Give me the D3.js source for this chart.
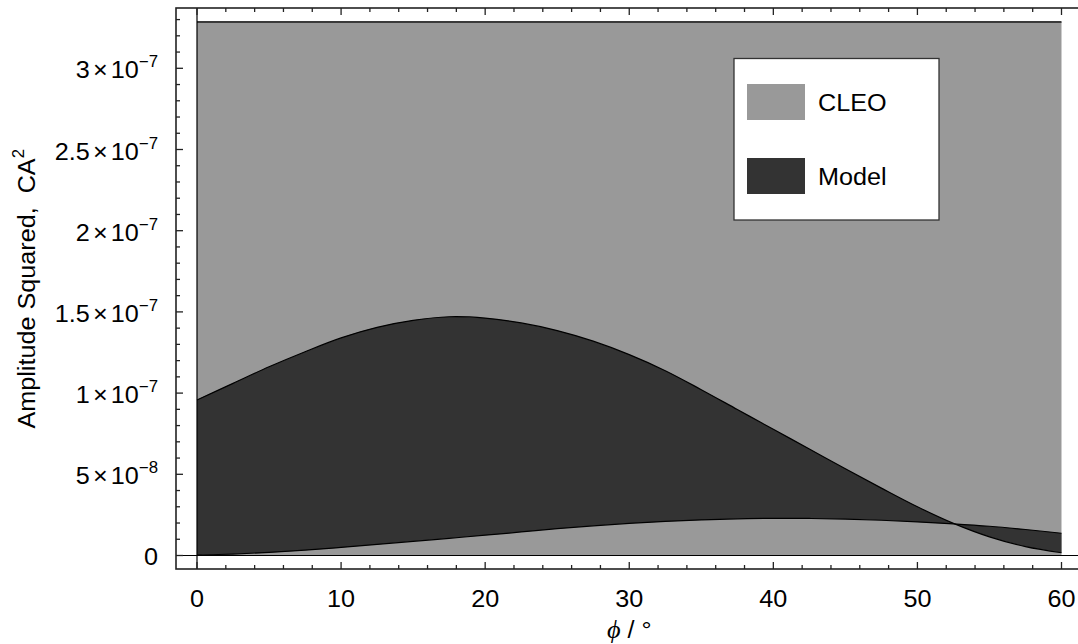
<!DOCTYPE html>
<html>
<head>
<meta charset="utf-8">
<script src="https://cdn.jsdelivr.net/npm/d3@7"></script>
<style>
  html, body { margin: 0; padding: 0; background: #fff; }
  svg { display: block; font-family: "Liberation Sans", Arial, sans-serif; }
</style>
</head>
<body>
<svg id="chart" width="1078" height="644"></svg>
<script>
// ---------------- data ----------------
const phiDeg = [0, 2.5, 5, 7.5, 10, 12.5, 15, 17.5, 20, 22.5, 25, 27.5, 30,
                32.5, 35, 37.5, 40, 42.5, 45, 47.5, 50, 52.5, 55, 57.5, 60];
// model band, in units of 1e-8
const modelUpper = [9.58, 10.6, 11.62, 12.55, 13.4, 14.05, 14.48, 14.7, 14.62, 14.32, 13.85, 13.2, 12.37,
                    11.38, 10.21, 8.99, 7.77, 6.56, 5.34, 4.15, 3.0, 1.98, 1.15, 0.55, 0.17];
const modelLower = [0.03, 0.09, 0.19, 0.33, 0.5, 0.68, 0.87, 1.06, 1.25, 1.45, 1.65, 1.83, 1.98,
                    2.1, 2.19, 2.26, 2.29, 2.28, 2.24, 2.17, 2.07, 1.95, 1.8, 1.6, 1.37];
const unit = 1e-8;
// CLEO band limits
const cleoLow = 0;
const cleoHigh = 3.285e-7;
const cleoPhiRange = [0, 60];

const xTicks = [0, 10, 20, 30, 40, 50, 60];
const xMinorTicks = [2, 4, 6, 8, 12, 14, 16, 18, 22, 24, 26, 28, 32, 34, 36, 38, 42, 44, 46, 48, 52, 54, 56, 58];
const yTicks = [0, 5e-8, 1e-7, 1.5e-7, 2e-7, 2.5e-7, 3e-7];
const yTickMantissa = ["0", "5", "1", "1.5", "2", "2.5", "3"];
const yTickExponent = ["", "\u22128", "\u22127", "\u22127", "\u22127", "\u22127", "\u22127"];
const yMinorTicks = d3.range(1, 34).filter(k => k % 5 !== 0).map(k => k * 1e-8);

const legendLabels = ["CLEO", "Model"];
const legendColors = ["#999999", "#333333"];
const xTitle = ["\u03D5", " / \u00B0"];
const yTitle = ["Amplitude Squared,  CA", "2"];

// ---------------- layout ----------------
const frame = { left: 176, top: 8, right: 1080, bottom: 569 };
const svg = d3.select("#chart");
const x = d3.scaleLinear().domain([0, 60]).range([197, 1061.5]);
const y = d3.scaleLinear().domain([0, 3e-7]).range([555.5, 68.3]);
const SX = 1.05;
const FS = 24;

// CLEO band
svg.append("rect")
  .attr("x", x(cleoPhiRange[0])).attr("y", y(cleoHigh))
  .attr("width", x(cleoPhiRange[1]) - x(cleoPhiRange[0]))
  .attr("height", y(cleoLow) - y(cleoHigh))
  .attr("fill", legendColors[0]);
svg.append("line")
  .attr("x1", x(cleoPhiRange[0])).attr("x2", x(cleoPhiRange[1]))
  .attr("y1", y(cleoHigh)).attr("y2", y(cleoHigh))
  .attr("stroke", "#3a3a3a").attr("stroke-width", 2);

// Model band
const pts = phiDeg.map((p, i) => ({ p, lo: modelLower[i] * unit, hi: modelUpper[i] * unit }));
const curve = d3.curveCatmullRom.alpha(0.5);
svg.append("path")
  .attr("d", d3.area().x(d => x(d.p)).y0(d => y(d.lo)).y1(d => y(d.hi)).curve(curve)(pts))
  .attr("fill", legendColors[1]);
const line = d3.line().curve(curve);
svg.append("path").attr("d", line(pts.map(d => [x(d.p), y(d.hi)])))
  .attr("fill", "none").attr("stroke", "#000").attr("stroke-width", 1.2);
svg.append("path").attr("d", line(pts.map(d => [x(d.p), y(d.lo)])))
  .attr("fill", "none").attr("stroke", "#000").attr("stroke-width", 1.2);

// Axes lines through origin
svg.append("line").attr("x1", frame.left).attr("x2", frame.right)
  .attr("y1", y(0)).attr("y2", y(0)).attr("stroke", "#000").attr("stroke-width", 1.2);
svg.append("line").attr("x1", x(0)).attr("x2", x(0))
  .attr("y1", frame.top).attr("y2", frame.bottom).attr("stroke", "#000").attr("stroke-width", 1.2);

// Frame
svg.append("rect")
  .attr("x", frame.left).attr("y", frame.top)
  .attr("width", frame.right - frame.left).attr("height", frame.bottom - frame.top)
  .attr("fill", "none").attr("stroke", "#222").attr("stroke-width", 1.6);

// Ticks
const tk = svg.append("g").attr("stroke", "#222").attr("stroke-width", 1.3);
xTicks.forEach(v => {
  tk.append("line").attr("x1", x(v)).attr("x2", x(v)).attr("y1", frame.bottom).attr("y2", frame.bottom - 7);
  tk.append("line").attr("x1", x(v)).attr("x2", x(v)).attr("y1", frame.top).attr("y2", frame.top + 7);
});
xMinorTicks.forEach(v => {
  tk.append("line").attr("x1", x(v)).attr("x2", x(v)).attr("y1", frame.bottom).attr("y2", frame.bottom - 4);
  tk.append("line").attr("x1", x(v)).attr("x2", x(v)).attr("y1", frame.top).attr("y2", frame.top + 4);
});
yTicks.forEach(v => {
  tk.append("line").attr("x1", frame.left).attr("x2", frame.left + 7).attr("y1", y(v)).attr("y2", y(v));
});
yMinorTicks.forEach(v => {
  tk.append("line").attr("x1", frame.left).attr("x2", frame.left + 4).attr("y1", y(v)).attr("y2", y(v));
});

// Tick labels
xTicks.forEach(v => {
  svg.append("text")
    .attr("transform", `translate(${x(v)},606.5) scale(${SX},1)`)
    .attr("text-anchor", "middle").attr("font-size", FS).attr("fill", "#000")
    .text(v);
});
yTicks.forEach((v, i) => {
  const exp = yTickExponent[i];
  const t = svg.append("text")
    .attr("transform", `translate(158,${y(v) + (exp ? 10 : 9)}) scale(${SX},1)`)
    .attr("text-anchor", "end").attr("font-size", FS).attr("fill", "#000");
  if (!exp) { t.text(yTickMantissa[i]); return; }
  t.append("tspan").text(yTickMantissa[i]);
  t.append("tspan").attr("dx", 3).text("\u00D7");
  t.append("tspan").attr("dx", 3).text("10");
  t.append("tspan").attr("dy", -11).attr("font-size", 16).text(exp);
});

// Axis titles
const xt = svg.append("text")
  .attr("transform", `translate(${(x(0) + x(60)) / 2},638) scale(${SX},1)`)
  .attr("text-anchor", "middle").attr("font-size", FS).attr("fill", "#000")
  .style("white-space", "pre");
xt.append("tspan").attr("font-family", "'Liberation Serif', serif").attr("font-style", "italic").attr("font-size", 25).text(xTitle[0]);
xt.append("tspan").text(xTitle[1]);

const yt = svg.append("text")
  .attr("transform", `translate(35,${(y(0) + y(cleoHigh)) / 2}) rotate(-90) scale(${SX},1)`)
  .attr("text-anchor", "middle").attr("font-size", FS).attr("fill", "#000")
  .style("white-space", "pre");
yt.append("tspan").text(yTitle[0]);
yt.append("tspan").attr("dy", -11).attr("font-size", 16).text(yTitle[1]);

// Legend
const lg = svg.append("g");
lg.append("rect").attr("x", 734).attr("y", 58.5).attr("width", 205).attr("height", 161.5)
  .attr("fill", "#fff").attr("stroke", "#333").attr("stroke-width", 1.3);
legendLabels.forEach((lab, i) => {
  const cy = 102 + i * 74;
  lg.append("rect").attr("x", 747).attr("y", cy - 18).attr("width", 58).attr("height", 36)
    .attr("fill", legendColors[i]);
  lg.append("text").attr("transform", `translate(818,${cy + 8.5}) scale(${SX},1)`)
    .attr("font-size", FS).attr("fill", "#000").text(lab);
});
</script>
</body>
</html>
